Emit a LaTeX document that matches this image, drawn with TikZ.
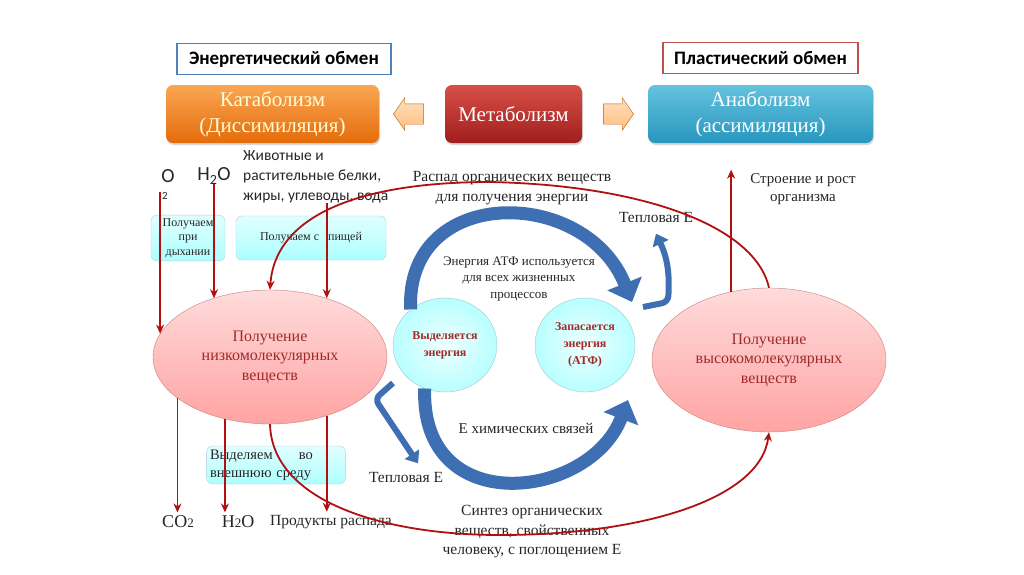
\documentclass[tikz,border=0pt]{standalone}
\usepackage{fontspec}
\setmainfont{Liberation Serif}
\setsansfont{Carlito}
\usepackage{tikz}
\usetikzlibrary{shapes.geometric,shapes.arrows,arrows.meta,shadows}
\definecolor{frameblue}{HTML}{4F81BD}
\definecolor{framered}{HTML}{C0504D}
\definecolor{linered}{HTML}{B01010}
\definecolor{arcblue}{HTML}{3F6FB3}
\definecolor{ovaltext}{HTML}{A02A2A}
\definecolor{inktext}{HTML}{262626}

\begin{document}
\begin{tikzpicture}[x=1pt,y=-1pt]
\tikzset{titlebox/.style={draw,line width=1.5pt,fill=white,font=\sffamily\bfseries\fontsize{19}{21}\selectfont,minimum height=31pt}}
\tikzset{bigbox/.style={rounded corners=7pt,minimum width=#1,minimum height=58pt,align=center,text=white,font=\fontsize{21}{26}\selectfont,drop shadow={opacity=.3,shadow xshift=1pt,shadow yshift=-2pt}}}
\tikzset{blockarrow/.style={single arrow,draw=orange!75!black,top color=orange!25,bottom color=orange!50,minimum height=30pt,inner xsep=0pt,inner ysep=10pt,single arrow head extend=6pt,single arrow tip angle=110}}
\tikzset{infobox/.style={rounded corners=6pt,draw=cyan!40!gray!50,top color=cyan!12,bottom color=cyan!32,align=center,text=inktext,font=\fontsize{12}{14.5}\selectfont}}
\tikzset{oval/.style={ellipse,draw=red!45!gray!70,top color=red!14,bottom color=red!36,align=center,text=ovaltext,font=\fontsize{16}{19.5}\selectfont}}
\tikzset{ballon/.style={ellipse,draw=cyan!40!gray!60,inner color=cyan!6,outer color=cyan!28,align=center,text=ovaltext,font=\bfseries\fontsize{12}{17}\selectfont}}
\tikzset{lbl/.style={align=center,text=inktext,font=\fontsize{15.5}{19.5}\selectfont}}
\tikzset{redarrow/.style={draw=linered,line width=1.8pt,-{Stealth[length=9pt,width=8pt]}}}
\tikzset{bluearc/.style={draw=arcblue,line width=13pt,-{Triangle[length=20pt,width=36pt]}}}
\tikzset{heatarrow/.style={draw=arcblue,line width=6pt,rounded corners=6pt,-{Triangle[length=11pt,width=17pt]}}}
\useasboundingbox (0,0) rectangle (1024,574);
\fill[white] (0,0) rectangle (1024,574);

\node[titlebox,draw=frameblue,minimum width=214pt] (energy) at (284,59) {Энергетический обмен};
\node[titlebox,draw=framered,minimum width=195pt] (plastic) at (760.5,58) {Пластический обмен};
\node[bigbox=213pt,top color={rgb,255:red,250;green,166;blue,84},bottom color={rgb,255:red,228;green,108;blue,10},text=yellow!15] (catab) at (272.5,114) {Катаболизм\\(Диссимиляция)};
\node[bigbox=137pt,top color={rgb,255:red,215;green,80;blue,70},bottom color={rgb,255:red,160;green,30;blue,30}] (metab) at (513.5,114) {Метаболизм};
\node[bigbox=225pt,top color={rgb,255:red,100;green,195;blue,222},bottom color={rgb,255:red,40;green,150;blue,190}] (anab) at (760.5,114) {Анаболизм\\(ассимиляция)};
\node[blockarrow,shape border rotate=180] (toleft) at (412,114) {};
\node[blockarrow] (toright) at (615,114) {};

\node[text=inktext,font=\sffamily\fontsize{20}{22}\selectfont,inner sep=0pt] (o2) at (168,176) {O};
\node[text=inktext,font=\sffamily\fontsize{11}{11}\selectfont,inner sep=0pt] (o2sub) at (165,196) {2};
\node[text=inktext,font=\sffamily\fontsize{20}{22}\selectfont,inner sep=0pt] (h2o) at (214,176) {H\textsubscript{2}O};
\node[align=left,anchor=north west,text=inktext,font=\sffamily\fontsize{15.5}{20}\selectfont,inner sep=0pt] (food) at (243,150) {Животные и\\растительные белки,\\жиры, углеводы, вода};
\node[lbl] (decay) at (512,188) {Распад органических веществ\\для получения энергии};
\node[lbl] (heat1) at (656,217) {Тепловая Е};
\node[lbl,font=\fontsize{15}{18.5}\selectfont] (growth) at (803,189) {Строение и рост\\организма};

\node[infobox,minimum width=74pt,minimum height=44pt] (breath) at (188,238) {Получаем\\при\\дыхании};
\node[infobox,minimum width=150pt,minimum height=44pt] (withfood) at (311,238) {Получаем с\hspace{6pt} пищей};

\node[oval,minimum width=234pt,minimum height=134pt] (lowmol) at (270,357) {Получение\\низкомолекулярных\\веществ};
\node[oval,minimum width=234pt,minimum height=144pt] (highmol) at (769,360) {Получение\\высокомолекулярных\\веществ};
\node[ballon,minimum width=104pt,minimum height=94pt] (release) at (445,345) {Выделяется\\энергия};
\node[ballon,minimum width=100pt,minimum height=94pt] (store) at (585,345) {Запасается\\энергия\\(АТФ)};

\node[lbl,font=\fontsize{13}{16.5}\selectfont] (atpuse) at (519,279) {Энергия АТФ используется\\для всех жизненных\\процессов};
\node[lbl,font=\fontsize{15}{18}\selectfont] (chembond) at (526,428) {Е химических связей};
\node[lbl] (heat2) at (406,477) {Тепловая Е};
\node[infobox,align=left,text width=132pt,minimum height=38pt,font=\fontsize{14.5}{18}\selectfont] (emit) at (276,465) {Выделяем\hspace{26pt}во\\внешнюю среду};

\node[lbl,font=\fontsize{18}{20}\selectfont] (co2) at (178,522) {CO{\fontsize{13}{13}\selectfont 2}};
\node[lbl,font=\fontsize{18}{20}\selectfont] (h2obot) at (238,522) {H{\fontsize{13}{13}\selectfont 2}O};
\node[lbl] (products) at (331,522) {Продукты распада};
\node[lbl] (synth) at (532,532) {Синтез органических\\веществ, свойственных\\человеку, с поглощением Е};

\coordinate (arcend1) at (632,302);
\coordinate (arcend2) at (628,400);
\coordinate (heatfoot1) at (643,307);
\coordinate (heatfoot2) at (393,383);
\draw[bluearc] (release.134) .. controls (405,185) and (585,185) .. (arcend1);
\draw[bluearc] (release.245) .. controls (420,520) and (590,500) .. (arcend2);
\draw[heatarrow] (heatfoot1) -- (668,302) .. controls (670,270) and (666,255) .. ([yshift=-8pt]heat1.south);
\draw[heatarrow] (heatfoot2) -- (375,399) -- ([xshift=12pt,yshift=5pt]heat2.north);

\draw[redarrow] (lowmol.168 |- o2sub.north) -- (lowmol.168);
\draw[redarrow] (h2o.south) -- (h2o.south |- lowmol.134);
\draw[redarrow] (food.south -| lowmol.46) -- (lowmol.46);
\draw[redarrow] (lowmol.204) -- (lowmol.204 |- co2.north);
\draw[redarrow] (lowmol.234) -- (lowmol.234 |- h2obot.north);
\draw[redarrow] (lowmol.314) -- (lowmol.314 |- products.north);
\draw[redarrow] (highmol.119) -- (highmol.119 |- growth.north);
\draw[redarrow] (highmol.north) .. controls (755,225) and (640,185) .. (490,182) .. controls (360,182) and (275,215) .. (lowmol.north);
\draw[redarrow] (lowmol.south) .. controls (272,500) and (380,535) .. (500,535) .. controls (640,535) and (760,500) .. (highmol.south);
\end{tikzpicture}
\end{document}
